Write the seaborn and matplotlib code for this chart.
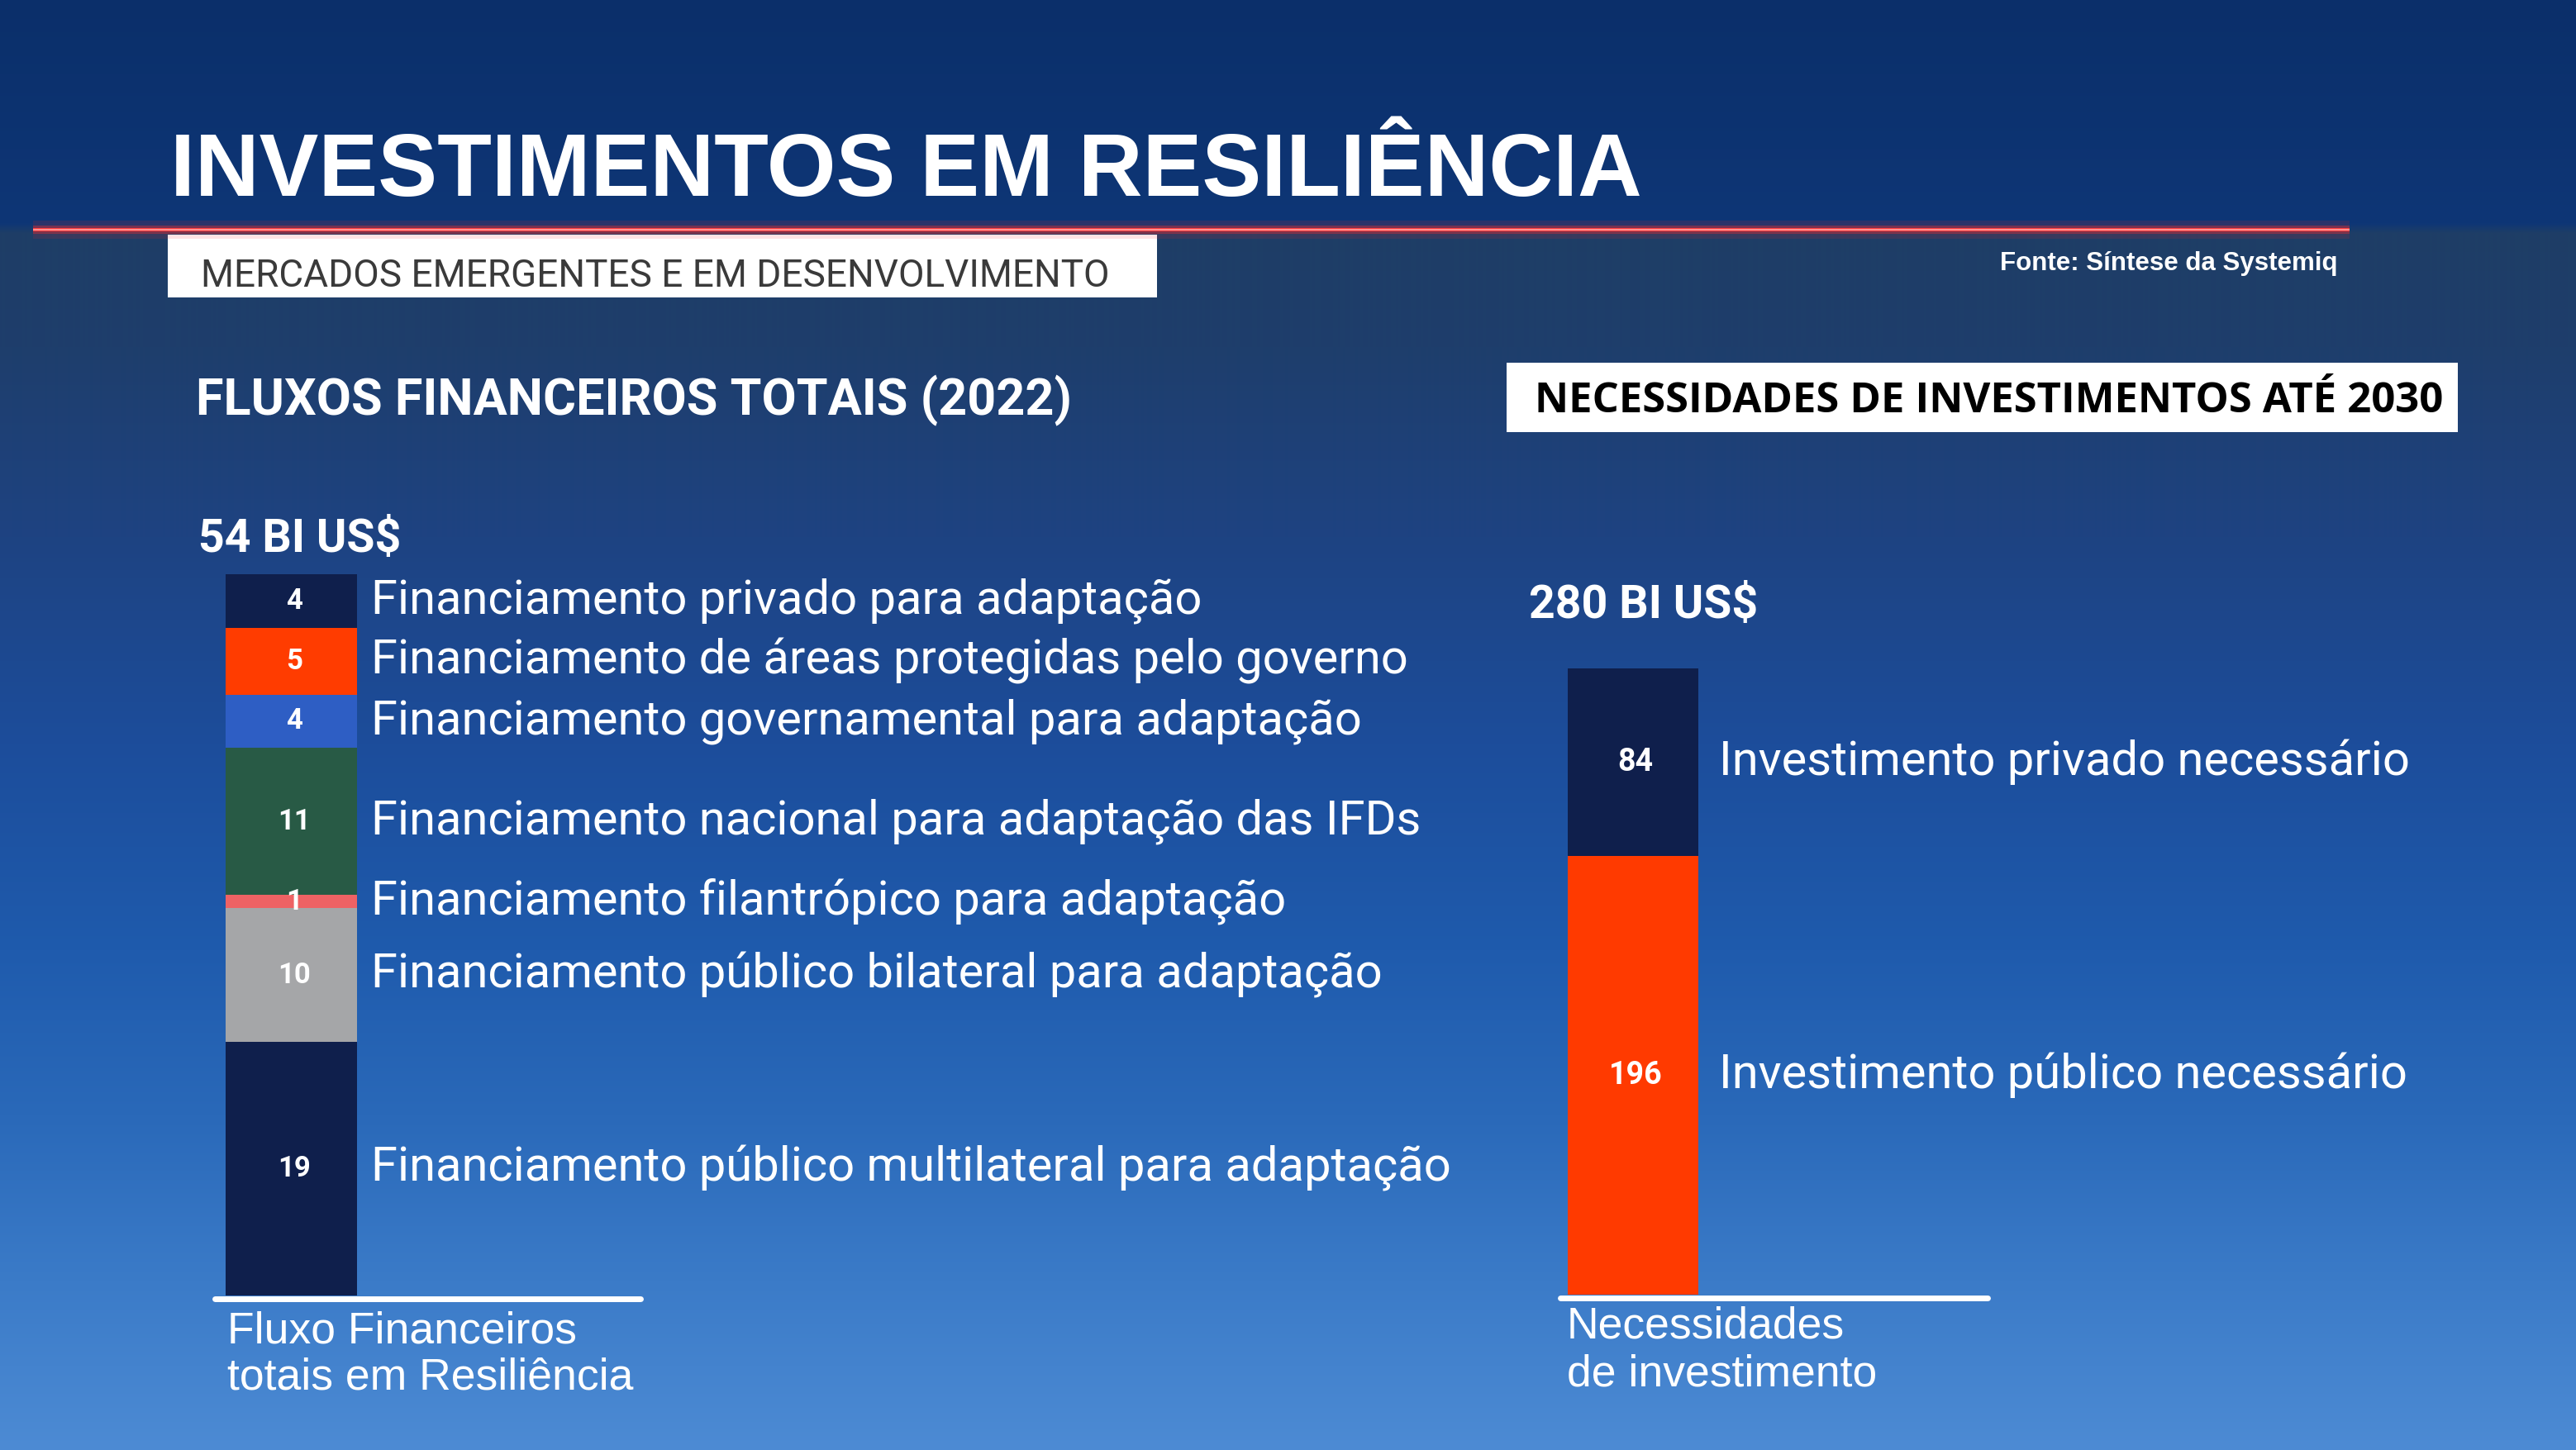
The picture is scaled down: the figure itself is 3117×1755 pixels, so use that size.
import numpy as np
import pandas as pd
import matplotlib.pyplot as plt
from matplotlib.patches import Rectangle
from matplotlib.lines import Line2D
import seaborn as sns

#############################
### Data  ##################
#############################
flow_labels = ["Financiamento privado para adaptação",
               "Financiamento de áreas protegidas pelo governo",
               "Financiamento governamental para adaptação",
               "Financiamento nacional para adaptação das IFDs",
               "Financiamento filantrópico para adaptação",
               "Financiamento público bilateral para adaptação",
               "Financiamento público multilateral para adaptação"]
flow_values = [4, 5, 4, 11, 1, 10, 19]
flow_colors = ["#0f1f4c", "#ff3c00", "#2e5ec4", "#285a45", "#ee6264", "#a5a6a8", "#0f1f4c"]
flow_total = "54 BI US$"

need_labels = ["Investimento privado necessário", "Investimento público necessário"]
need_values = [84, 196]
need_colors = ["#0f1f4c", "#ff3a00"]
need_total = "280 BI US$"

title = "INVESTIMENTOS EM RESILIÊNCIA"
subtitle = "MERCADOS EMERGENTES E EM DESENVOLVIMENTO"
source = "Fonte: Síntese da Systemiq"
left_header = "FLUXOS FINANCEIROS TOTAIS (2022)"
right_header = "NECESSIDADES DE INVESTIMENTOS ATÉ 2030"
left_axis_label = ["Fluxo Financeiros", "totais em Resiliência"]
right_axis_label = ["Necessidades", "de investimento"]

#############################
### Figure + background ####
#############################
W, H = 3117, 1755
sns.set_theme(style="white")
fig = plt.figure(figsize=(W / 100, H / 100), dpi=100)

def fx(px):
    return px / W

def fy(py):
    return 1 - py / H

narrow = ['Roboto', 'DejaVu Sans']
plain = ['Liberation Sans', 'DejaVu Sans']
label_font = ['Roboto', 'DejaVu Sans']

# vertical gradient (decoration)
stops_y = [0, 270, 282, 420, 650, 900, 1150, 1350, 1550, 1755]
stops_c = ["#0b2f6a", "#0e3676", "#1f3e66", "#1e3e6c", "#1e4382",
           "#1c4d9b", "#1f5bad", "#2a69b9", "#3b7bc8", "#4d8bd4"]
rgb = np.array([plt.matplotlib.colors.to_rgb(c) for c in stops_c])
yy = np.arange(H)
grad = np.stack([np.interp(yy, stops_y, rgb[:, k]) for k in range(3)], axis=-1)
grad = np.repeat(grad[:, None, :], 4, axis=1)
bg = fig.add_axes([0, 0, 1, 1])
bg.imshow(grad, aspect='auto', extent=[0, 1, 0, 1], origin='upper')
bg.set_xlim(0, 1)
bg.set_ylim(0, 1)
bg.axis('off')

# red glowing rule under the title
for lw, a, c in [(22, 0.12, "#ff2020"), (10, 0.35, "#ff2a2a"), (4, 1.0, "#ff3b3b"), (1.5, 1.0, "#ffb0b0")]:
    fig.add_artist(Line2D([fx(40), fx(2843)], [fy(278), fy(278)], transform=fig.transFigure,
                          color=c, lw=lw * 0.72, alpha=a, solid_capstyle='butt'))

#############################
### Header texts ###########
#############################
fig.text(fx(206), fy(237), title, color='white', fontsize=77.5, fontweight='bold',
         family=plain, va='baseline', ha='left')
fig.add_artist(Rectangle((fx(203), fy(360)), fx(1400) - fx(203), fy(284) - fy(360),
                         transform=fig.transFigure, facecolor='white', edgecolor='none'))
fig.text(fx(243), fy(347), subtitle, color='#3a3a3a', fontsize=33, fontweight='normal',
         family=label_font, va='baseline', ha='left')
fig.text(fx(2420), fy(327), source, color='white', fontsize=22.5, fontweight='bold',
         family=plain, va='baseline', ha='left')
fig.text(fx(237), fy(502), left_header, color='white', fontsize=44, fontweight='bold',
         family=narrow, va='baseline', ha='left')
fig.add_artist(Rectangle((fx(1823), fy(523)), fx(2974) - fx(1823), fy(439) - fy(523),
                         transform=fig.transFigure, facecolor='white', edgecolor='none'))
fig.text(fx(1857), fy(499), right_header, color='black', fontsize=36.5, fontweight='bold',
         family=['Open Sans', 'DejaVu Sans'], va='baseline', ha='left')
fig.text(fx(240), fy(668), flow_total, color='white', fontsize=40, fontweight='bold',
         family=narrow, va='baseline', ha='left')
fig.text(fx(1850), fy(748), need_total, color='white', fontsize=40, fontweight='bold',
         family=narrow, va='baseline', ha='left')

#############################
### Stacked bars ###########
#############################
def stacked_bar(ax, labels, values, colors, label_off, num_size):
    # cumulative tops, bottom segment is the last in the list
    tops = np.cumsum(values[::-1])[::-1]
    bottoms = tops - np.array(values)
    df = pd.DataFrame({"grupo": ["total"] * len(values), "topo": tops, "segmento": labels})
    sns.barplot(data=df, x="grupo", y="topo", hue="segmento", hue_order=labels,
                palette=dict(zip(labels, colors)), dodge=False, width=1, saturation=1,
                errorbar=None, legend=False, ax=ax, linewidth=0)
    ax.set_xlim(-0.5, 0.5)
    ax.set_ylim(0, tops[0])
    ax.axis('off')
    for lab, v, b in zip(labels, values, bottoms):
        mid = b + v / 2
        ax.text(0.02, mid, str(v), color='white', fontsize=num_size, fontweight='bold',
                family=narrow, ha='center', va='center', clip_on=False)
        ax.text(label_off, mid, lab, color='white', fontsize=41.7, family=label_font,
                ha='left', va='center', transform=ax.get_yaxis_transform(), clip_on=False)

ax1 = fig.add_axes([fx(273), fy(1568), fx(432) - fx(273), fy(695) - fy(1568)])
stacked_bar(ax1, flow_labels, flow_values, flow_colors, (449 - 273) / 159, 25)

ax2 = fig.add_axes([fx(1897), fy(1567), fx(2055) - fx(1897), fy(809) - fy(1567)])
stacked_bar(ax2, need_labels, need_values, need_colors, (2080 - 1897) / 158, 27)

# base lines + captions
fig.add_artist(Line2D([fx(260), fx(775)], [fy(1572), fy(1572)], transform=fig.transFigure,
                      color='white', lw=5))
fig.add_artist(Line2D([fx(1888), fx(2405)], [fy(1571), fy(1571)], transform=fig.transFigure,
                      color='white', lw=5))
for i, line in enumerate(left_axis_label):
    fig.text(fx(275), fy(1625 + 57 * i), line, color='white', fontsize=38.5, family=plain,
             va='baseline', ha='left')
for i, line in enumerate(right_axis_label):
    fig.text(fx(1896), fy(1620 + 57 * i), line, color='white', fontsize=38.5, family=plain,
             va='baseline', ha='left')

plt.savefig("out.png", dpi=100)
